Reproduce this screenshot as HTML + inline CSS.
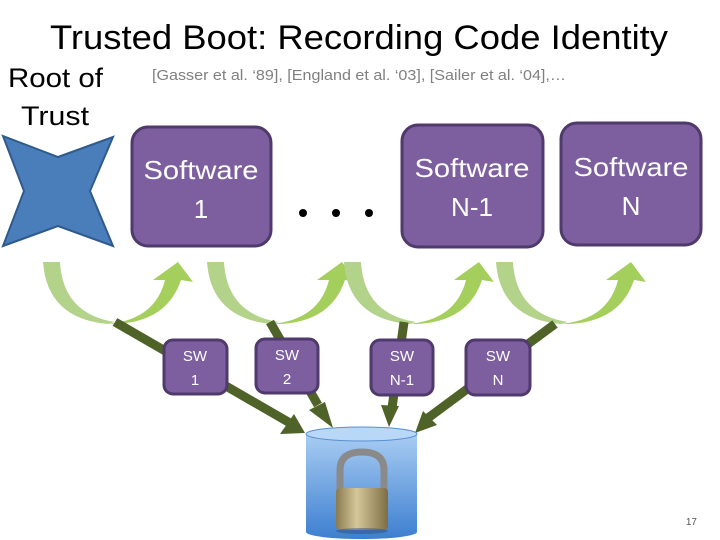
<!DOCTYPE html>
<html><head><meta charset="utf-8"><style>body{margin:0;background:#fff}svg{display:block}text{font-family:"Liberation Sans",sans-serif}</style></head>
<body>
<svg width="720" height="540" viewBox="0 0 720 540" xmlns="http://www.w3.org/2000/svg">
<defs>
<linearGradient id="cyl" x1="0" y1="0" x2="0" y2="1"><stop offset="0" stop-color="#a9cdf3"/><stop offset="1" stop-color="#3d7fd0"/></linearGradient>
<linearGradient id="lock" x1="0" y1="0" x2="1" y2="0"><stop offset="0" stop-color="#8a7a50"/><stop offset="0.4" stop-color="#d6c79a"/><stop offset="1" stop-color="#7d6d44"/></linearGradient>
<g id="curve">
<path d="M0,0 L17,0 Q20,52 72,60 L64,62 Q4,56 0,0Z" fill="#b3d38b"/>
<path d="M64,62 Q112,58 122,18 L110,18 L135,0 L150,20 L138,18 Q124,60 72,62Z" fill="#a5cf5c"/>
</g>
</defs>
<text x="50" y="49" font-size="34" textLength="618" lengthAdjust="spacingAndGlyphs">Trusted Boot: Recording Code Identity</text>
<text x="8" y="87" font-size="27" textLength="95" lengthAdjust="spacingAndGlyphs">Root of</text>
<text x="21" y="125" font-size="27" textLength="68" lengthAdjust="spacingAndGlyphs">Trust</text>
<text x="152" y="80" font-size="15" fill="#808080" textLength="414" lengthAdjust="spacingAndGlyphs">[Gasser et al. ‘89], [England et al. ‘03], [Sailer et al. ‘04],…</text>
<path d="M3,136 L58,157 L113,137 L90,191 L113,246 L58,226 L3,246 L24,191Z" fill="#4a7ebb" stroke="#2f5a8c" stroke-width="2"/>
<g fill="#7d5fa0" stroke="#4f3a6b" stroke-width="3">
<rect x="132" y="127" width="139" height="119" rx="16"/>
<rect x="402" y="125" width="141" height="122" rx="16"/>
<rect x="561" y="123" width="140" height="122" rx="16"/>
</g>
<g fill="#fff" font-size="26" text-anchor="middle">
<text x="201" y="179" textLength="115" lengthAdjust="spacingAndGlyphs">Software</text><text x="201" y="218">1</text>
<text x="472" y="177" textLength="115" lengthAdjust="spacingAndGlyphs">Software</text><text x="472" y="216">N-1</text>
<text x="631" y="176" textLength="115" lengthAdjust="spacingAndGlyphs">Software</text><text x="631" y="215">N</text>
</g>
<g fill="#000"><circle cx="303" cy="213" r="4"/><circle cx="336" cy="213" r="4"/><circle cx="369" cy="213" r="4"/></g>
<use href="#curve" x="43" y="262"/>
<use href="#curve" x="207" y="262"/>
<use href="#curve" x="344" y="262"/>
<use href="#curve" x="496" y="262"/>
<g stroke="#4f6228" stroke-width="9" fill="none">
<line x1="115" y1="322" x2="290" y2="423"/>
<line x1="270" y1="322" x2="318" y2="405"/>
<line x1="404" y1="322" x2="392" y2="408"/>
<line x1="555" y1="324" x2="428" y2="418"/>
</g>
<g fill="#4f6228">
<path d="M305,433 L280,434 L294,414Z"/>
<path d="M333,428 L309,410 L325,402Z"/>
<path d="M389,427 L381,405 L399,406Z"/>
<path d="M415,433 L423,411 L437,425Z"/>
</g>
<g fill="#7d5fa0" stroke="#4f3a6b" stroke-width="3">
<rect x="164" y="340" width="63" height="54" rx="9"/>
<rect x="256" y="339" width="62" height="54" rx="9"/>
<rect x="371" y="340" width="62" height="55" rx="9"/>
<rect x="466" y="340" width="64" height="55" rx="9"/>
</g>
<g fill="#fff" font-size="15" text-anchor="middle">
<text x="195" y="361">SW</text><text x="195" y="385">1</text>
<text x="287" y="360">SW</text><text x="287" y="384">2</text>
<text x="402" y="361">SW</text><text x="402" y="385">N-1</text>
<text x="498" y="361">SW</text><text x="498" y="385">N</text>
</g>
<path d="M306,434 L306,532 A55.5,7 0 0 0 417,532 L417,434Z" fill="url(#cyl)"/>
<ellipse cx="361.5" cy="434" rx="55.5" ry="7" fill="#b9d8f7" stroke="#5a8fd0"/>
<path d="M340,492 L340,470 Q340,452 362,452 Q384,452 384,470 L384,492" fill="none" stroke="#8a8a8a" stroke-width="7"/>
<rect x="336" y="488" width="52" height="42" rx="4" fill="url(#lock)"/>
<ellipse cx="362" cy="531" rx="26" ry="3" fill="#2a4f80" opacity="0.5"/>
<text x="697" y="525" font-size="10" fill="#555" text-anchor="end">17</text>
</svg>
</body></html>
